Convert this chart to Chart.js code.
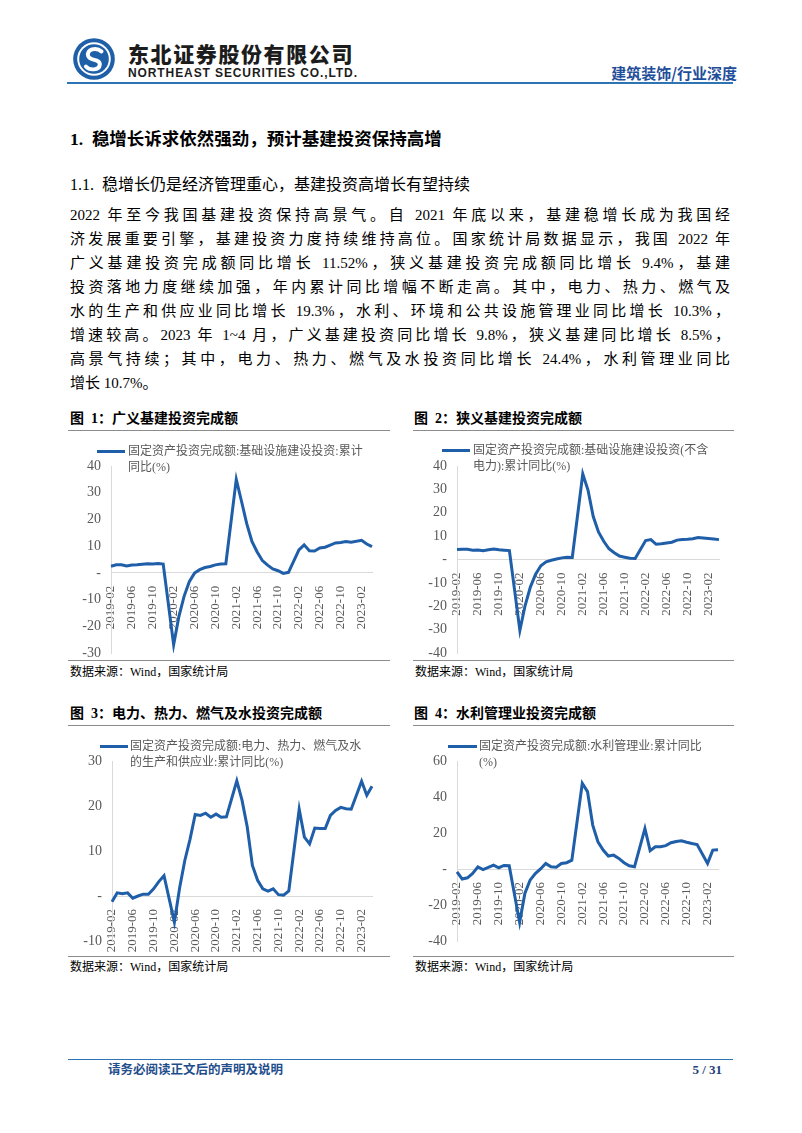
<!DOCTYPE html>
<html>
<head>
<meta charset="utf-8">
<script src="https://cdn.jsdelivr.net/npm/chart.js@4.4.0/dist/chart.umd.min.js"></script>
<style>
  body { margin: 0; background: #fff; }
  #page { position: relative; width: 802px; height: 1133px; overflow: hidden; background: #fff;
          font-family: "Liberation Serif", "Noto Sans CJK SC", serif; color: #000; }
  .t { position: absolute; white-space: nowrap; line-height: 1; }
  .hr { position: absolute; height: 1px; background: #8c8c8c; }
  .blue { position: absolute; height: 1.5px; background: #2e74b5; }
  .para { position: absolute; left: 70px; top: 203px; width: 660px; font-size: 15px; line-height: 24px; }
  .para div { text-align: justify; text-align-last: justify; white-space: nowrap; }
  .para div.last { text-align-last: left; }
  .figt { font-size: 14px; font-weight: bold; }
  .src { font-size: 12px; }
  .leg { position: absolute; font-size: 12px; line-height: 16px; color: #595959; white-space: nowrap; }
  .legline { position: absolute; height: 3px; background: #1f5ea8; }
  canvas { position: absolute; }
</style>
</head>
<body>
<div id="page">
  <!-- header -->
  <svg class="t" style="left:72px;top:37px" width="44" height="44" viewBox="0 0 38 38">
    <circle cx="19" cy="19" r="18" fill="#1f5fa8"/>
    <circle cx="19" cy="19" r="14.5" fill="#fff"/>
    <circle cx="19" cy="19" r="12.8" fill="#1f5fa8"/>
    <path d="M25.5 12.5 C21 8.5 12 10.5 14 16.5 C15.5 21 24.5 18.5 24 24 C23.5 29 15 29 12 25.5" stroke="#fff" stroke-width="3.4" fill="none" stroke-linecap="round"/>
  </svg>
  <div class="t" style="left:128px;top:43px;font-family:'Noto Sans CJK SC';font-size:21px;font-weight:900;letter-spacing:1.6px;color:#1c1c1c">东北证券股份有限公司</div>
  <div class="t" style="left:128px;top:66.5px;font-family:'Liberation Sans';font-size:12px;font-weight:bold;letter-spacing:0.9px;color:#1c1c1c">NORTHEAST SECURITIES CO.,LTD.</div>
  <div class="t" style="right:65px;top:64.5px;font-family:'Noto Sans CJK SC';font-size:15px;font-weight:bold;color:#1f4e9a">建筑装饰/行业深度</div>
  <div class="blue" style="left:67px;top:82px;width:666px"></div>

  <!-- text -->
  <div class="t" style="left:70px;top:131px;font-size:17.5px;font-weight:bold">1.&nbsp; 稳增长诉求依然强劲，预计基建投资保持高增</div>
  <div class="t" style="left:70px;top:177px;font-size:16px">1.1.&nbsp; 稳增长仍是经济管理重心，基建投资高增长有望持续</div>
  <div class="para">
    <div>2022 年至今我国基建投资保持高景气。自 2021 年底以来，基建稳增长成为我国经</div>
    <div>济发展重要引擎，基建投资力度持续维持高位。国家统计局数据显示，我国 2022 年</div>
    <div>广义基建投资完成额同比增长 11.52%，狭义基建投资完成额同比增长 9.4%，基建</div>
    <div>投资落地力度继续加强，年内累计同比增幅不断走高。其中，电力、热力、燃气及</div>
    <div>水的生产和供应业同比增长 19.3%，水利、环境和公共设施管理业同比增长 10.3%，</div>
    <div>增速较高。2023 年 1~4 月，广义基建投资同比增长 9.8%，狭义基建同比增长 8.5%，</div>
    <div>高景气持续；其中，电力、热力、燃气及水投资同比增长 24.4%，水利管理业同比</div>
    <div class="last">增长 10.7%。</div>
  </div>

  <!-- figure 1 -->
  <div class="t figt" style="left:70px;top:412px">图&nbsp; 1：广义基建投资完成额</div>
  <div class="hr" style="left:68px;top:430px;width:322px"></div>
  <canvas id="c1" width="324" height="226" style="left:68px;top:432px"></canvas>
  <div class="legline" style="left:97px;top:449.5px;width:28px"></div>
  <div class="leg" style="left:128px;top:443px">固定资产投资完成额:基础设施建设投资:累计<br>同比(%)</div>
  <div class="hr" style="left:68px;top:660px;width:322px"></div>
  <div class="t src" style="left:70px;top:666px">数据来源：Wind，国家统计局</div>

  <!-- figure 2 -->
  <div class="t figt" style="left:414px;top:412px">图&nbsp; 2：狭义基建投资完成额</div>
  <div class="hr" style="left:413px;top:430px;width:321px"></div>
  <canvas id="c2" width="325" height="226" style="left:410px;top:432px"></canvas>
  <div class="legline" style="left:442px;top:448.5px;width:28px"></div>
  <div class="leg" style="left:473px;top:442px">固定资产投资完成额:基础设施建设投资(不含<br>电力):累计同比(%)</div>
  <div class="hr" style="left:413px;top:660px;width:321px"></div>
  <div class="t src" style="left:415px;top:666px">数据来源：Wind，国家统计局</div>

  <!-- figure 3 -->
  <div class="t figt" style="left:70px;top:707px">图&nbsp; 3：电力、热力、燃气及水投资完成额</div>
  <div class="hr" style="left:68px;top:725px;width:322px"></div>
  <canvas id="c3" width="324" height="228" style="left:68px;top:727px"></canvas>
  <div class="legline" style="left:100px;top:744.5px;width:28px"></div>
  <div class="leg" style="left:130px;top:738px">固定资产投资完成额:电力、热力、燃气及水<br>的生产和供应业:累计同比(%)</div>
  <div class="hr" style="left:68px;top:956px;width:322px"></div>
  <div class="t src" style="left:70px;top:961px">数据来源：Wind，国家统计局</div>

  <!-- figure 4 -->
  <div class="t figt" style="left:414px;top:707px">图&nbsp; 4：水利管理业投资完成额</div>
  <div class="hr" style="left:413px;top:725px;width:321px"></div>
  <canvas id="c4" width="325" height="228" style="left:410px;top:727px"></canvas>
  <div class="legline" style="left:448px;top:744.5px;width:29px"></div>
  <div class="leg" style="left:479px;top:738px">固定资产投资完成额:水利管理业:累计同比<br>(%)</div>
  <div class="hr" style="left:413px;top:956px;width:321px"></div>
  <div class="t src" style="left:415px;top:961px">数据来源：Wind，国家统计局</div>

  <!-- footer -->
  <div class="blue" style="left:68px;top:1058.5px;width:665px"></div>
  <div class="t" style="left:108px;top:1063px;font-family:'Noto Sans CJK SC';font-size:12.5px;font-weight:bold;color:#1f4e8c">请务必阅读正文后的声明及说明</div>
  <div class="t" style="right:80px;top:1063px;font-size:13px;font-weight:bold;color:#1f3f7a">5 / 31</div>
</div>

<script>
// months 2019-02 .. 2023-04 (January has no data, Jan-Feb reported together)
const months = [
  '2019-02','2019-03','2019-04','2019-05','2019-06','2019-07','2019-08','2019-09','2019-10','2019-11','2019-12',
  '2020-01','2020-02','2020-03','2020-04','2020-05','2020-06','2020-07','2020-08','2020-09','2020-10','2020-11','2020-12',
  '2021-01','2021-02','2021-03','2021-04','2021-05','2021-06','2021-07','2021-08','2021-09','2021-10','2021-11','2021-12',
  '2022-01','2022-02','2022-03','2022-04','2022-05','2022-06','2022-07','2022-08','2022-09','2022-10','2022-11','2022-12',
  '2023-01','2023-02','2023-03','2023-04'
];

// 广义基建 累计同比(%)
const broadInfra = [
  2.5, 3.0, 3.0, 2.6, 2.9, 3.0, 3.2, 3.4, 3.3, 3.5, 3.3,
  null, -26.9, -16.4, -8.8, -3.3, -0.1, 1.2, 2.0, 2.4, 3.0, 3.3, 3.4,
  null, 35.0, 26.8, 18.4, 11.8, 7.8, 4.6, 2.9, 1.5, 0.8, -0.2, 0.2,
  null, 8.6, 10.5, 8.3, 8.2, 9.3, 9.6, 10.4, 11.2, 11.4, 11.7, 11.5,
  null, 12.2, 10.8, 9.8
];

// 狭义基建(不含电力) 累计同比(%)
const narrowInfra = [
  4.3, 4.4, 4.4, 4.0, 4.1, 3.8, 4.2, 4.5, 4.2, 4.0, 3.8,
  null, -30.3, -19.7, -11.8, -6.3, -2.7, -1.0, -0.3, 0.2, 0.7, 1.0, 0.9,
  null, 36.6, 29.7, 18.4, 11.8, 7.8, 4.6, 2.9, 1.5, 1.0, 0.5, 0.4,
  null, 8.1, 8.5, 6.5, 6.7, 7.1, 7.4, 8.3, 8.6, 8.7, 8.9, 9.4,
  null, 9.0, 8.8, 8.5
];

// 电力、热力、燃气及水的生产和供应业 累计同比(%)
const powerWater = [
  -1.3, 0.7, 0.5, 0.7, -0.5, 0.0, 0.4, 0.4, 1.6, 3.2, 4.5,
  null, -5.8, 1.8, 7.9, 12.6, 18.1, 17.9, 18.4, 17.5, 18.2, 17.5, 17.6,
  null, 25.6, 21.3, 15.4, 6.8, 3.5, 1.6, 1.1, 1.6, 0.3, 0.2, 1.1,
  null, 19.3, 13.1, 11.6, 15.1, 15.0, 15.0, 17.9, 19.0, 19.7, 19.4, 19.3,
  null, 25.5, 22.4, 24.4
];

// 水利管理业 累计同比(%)
const waterMgmt = [
  -1.6, -5.6, -4.9, -2.5, 1.2, -0.3, 0.9, 2.1, 0.7, 2.0, 1.8,
  null, -29.7, -13.6, -6.2, -2.5, 0.0, 3.1, 1.2, 1.0, 3.1, 3.5, 4.9,
  null, 47.6, 43.0, 24.4, 15.1, 10.5, 7.2, 7.7, 5.9, 3.5, 1.8, 1.2,
  null, 22.5, 10.2, 12.4, 12.4, 13.0, 14.6, 15.3, 15.7, 14.9, 14.2, 13.6,
  null, 3.1, 10.5, 10.7
];

const lineColor = '#1f5ea8';
const tickColor = '#595959';

function makeChart(id, values, yMin, yMax, yStep, axisWidth, padRight, padBottom) {
  const ctx = document.getElementById(id).getContext('2d');
  return new Chart(ctx, {
    type: 'line',
    data: {
      labels: months,
      datasets: [{
        data: values,
        borderColor: lineColor,
        borderWidth: 3,
        pointRadius: 0,
        tension: 0,
        spanGaps: true,
        fill: false
      }]
    },
    options: {
      responsive: false,
      animation: false,
      devicePixelRatio: 1,
      layout: { padding: { top: 34, right: padRight, bottom: padBottom, left: 0 } },
      plugins: { legend: { display: false }, tooltip: { enabled: false } },
      scales: {
        x: {
          position: { y: 0 },
          offset: false,
          grid: { display: false },
          border: { display: true, color: '#d9d9d9', width: 1 },
          ticks: {
            autoSkip: false,
            maxRotation: 90,
            minRotation: 90,
            padding: 5,
            color: tickColor,
            font: { family: 'Liberation Serif', size: 13 },
            callback: function (val, i) { return i % 4 === 0 ? this.getLabelForValue(val) : ''; }
          },
          afterFit: (s) => { s.paddingLeft = 0; s.paddingRight = 0; }
        },
        y: {
          min: yMin,
          max: yMax,
          grid: { display: false, drawTicks: false },
          border: { display: true, color: '#d9d9d9', width: 1 },
          ticks: {
            stepSize: yStep,
            padding: 10,
            color: tickColor,
            font: { family: 'Liberation Serif', size: 14 },
            callback: (v) => v === 0 ? '-' : v
          },
          afterFit: (s) => { s.width = axisWidth; s.paddingTop = 0; s.paddingBottom = 0; }
        }
      }
    }
  });
}

makeChart('c1', broadInfra, -30, 40, 10, 43, 20, 5);
makeChart('c2', narrowInfra, -40, 40, 10, 47, 16, 5);
makeChart('c3', powerWater, -10, 30, 10, 44, 20, 14);
makeChart('c4', waterMgmt, -40, 60, 20, 47, 17, 14);
</script>
</body>
</html>
